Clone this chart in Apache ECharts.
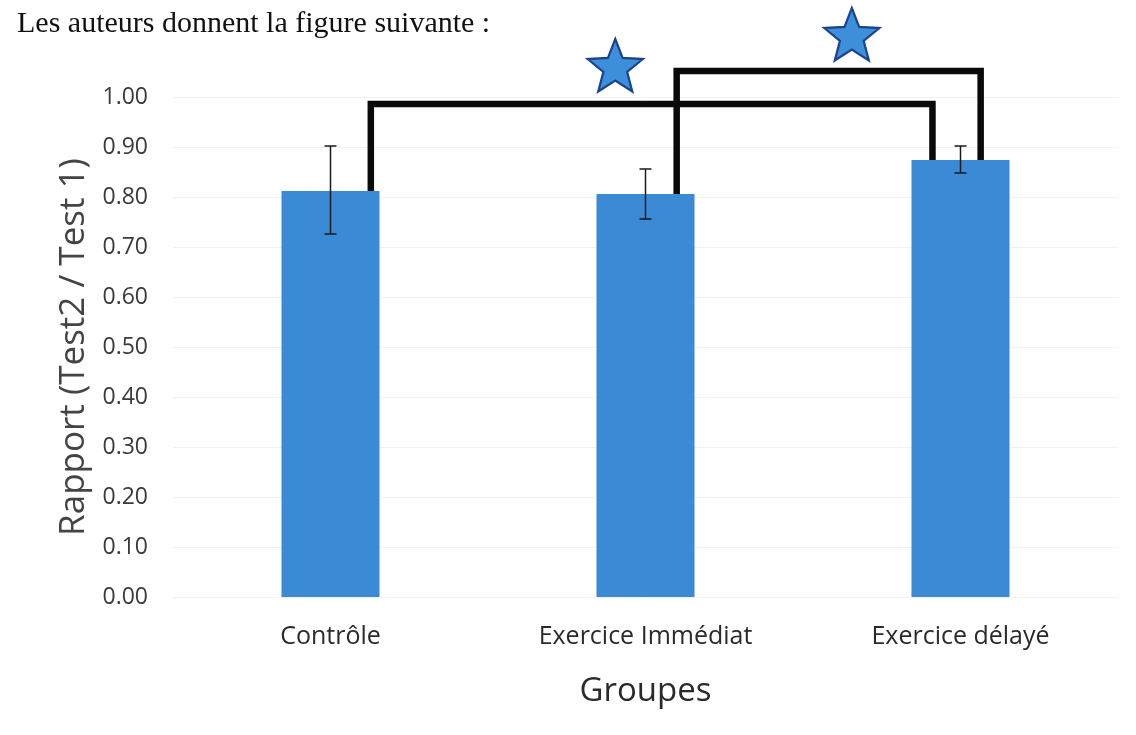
<!DOCTYPE html>
<html><head><meta charset="utf-8">
<script src="https://cdn.jsdelivr.net/npm/echarts@6/dist/echarts.min.js"></script>
<style>html,body{margin:0;padding:0;background:#fff}#c{width:1136px;height:735px}</style>
</head><body><div id="c"></div>
<script>
// ---- data ----
const categories = ['Contrôle', 'Exercice Immédiat', 'Exercice délayé'];
const ratioValues = [0.812, 0.806, 0.874];
const errorLow = [0.726, 0.756, 0.848];
const errorHigh = [0.902, 0.856, 0.902];
// significance brackets
const bracketFrom = [0, 1];
const bracketTo = [2, 2];
const bracketLevel = [0.986, 1.052];
const starLevel = [1.058, 1.12];

// ---- layout (fractions of category band width) ----
const legOffsets = [[0.128, -0.089], [0.099, 0.064]];
const starOffsets = [-0.096, 0.655];

const chart = echarts.init(document.getElementById('c'));
const FONT = 'Open Sans';

function starPoints(cx, cy, R) {
  const r = R * 0.43; const pts = [];
  for (let k = 0; k < 10; k++) {
    const a = -Math.PI / 2 + k * Math.PI / 5;
    const rr = k % 2 === 0 ? R : r;
    pts.push([cx + rr * Math.cos(a), cy + rr * Math.sin(a)]);
  }
  return pts;
}

chart.setOption({
  animation: false,
  backgroundColor: '#ffffff',
  title: {
    text: 'Les auteurs donnent la figure suivante :',
    left: 12, top: 4,
    textStyle: { fontFamily: 'Liberation Serif', fontSize: 30, fontWeight: 'normal', color: '#111' }
  },
  grid: { left: 173, right: 18, top: 97, bottom: 138 },
  xAxis: {
    type: 'category', data: categories,
    axisLine: { show: false }, axisTick: { show: false },
    axisLabel: { fontFamily: FONT, fontSize: 25, color: '#2a2a2a', margin: 27 },
    name: 'Groupes', nameLocation: 'middle', nameGap: 78,
    nameTextStyle: { fontFamily: FONT, fontSize: 33, color: '#2a2a2a' }
  },
  yAxis: {
    type: 'value', min: 0, max: 1, interval: 0.1,
    axisLine: { show: false }, axisTick: { show: false },
    splitLine: { show: true, lineStyle: { color: '#f2f2f2', width: 1 } },
    axisLabel: { fontFamily: FONT, fontSize: 23, color: '#3a3a3a', margin: 25,
      formatter: v => v.toFixed(2) },
    name: 'Rapport (Test2 / Test 1)', nameLocation: 'middle', nameGap: 80,
    nameTextStyle: { fontFamily: FONT, fontSize: 35, color: '#444' }
  },
  series: [
    {
      type: 'bar', data: ratioValues, barWidth: 98,
      itemStyle: { color: '#3a8ad5' }, z: 2
    },
    {
      type: 'custom', z: 5, clip: false,
      data: categories.map((c, i) => [i, errorLow[i], errorHigh[i]]),
      renderItem: (params, api) => {
        const lo = api.coord([api.value(0), api.value(1)]);
        const hi = api.coord([api.value(0), api.value(2)]);
        const w = 6, st = { stroke: '#1a1a1a', lineWidth: 1.5 };
        return { type: 'group', children: [
          { type: 'line', shape: { x1: lo[0], y1: lo[1], x2: hi[0], y2: hi[1] }, style: st },
          { type: 'line', shape: { x1: lo[0] - w, y1: lo[1], x2: lo[0] + w, y2: lo[1] }, style: st },
          { type: 'line', shape: { x1: hi[0] - w, y1: hi[1], x2: hi[0] + w, y2: hi[1] }, style: st }
        ]};
      }
    },
    {
      type: 'custom', z: 6, clip: false,
      data: bracketFrom.map((f, j) => [f, bracketTo[j], bracketLevel[j], ratioValues[f], ratioValues[bracketTo[j]], starLevel[j], j]),
      renderItem: (params, api) => {
        const j = api.value(6);
        const band = api.size([1, 0])[0];
        const f = api.value(0), t = api.value(1);
        const pf = api.coord([f, api.value(3)]);
        const pt = api.coord([t, api.value(4)]);
        const yTop = api.coord([f, api.value(2)])[1];
        const xf = pf[0] + legOffsets[j][0] * band;
        const xt = pt[0] + legOffsets[j][1] * band;
        const mid = api.coord([1, api.value(5)]);
        const sx = mid[0] + starOffsets[j] * band;
        return { type: 'group', children: [
          { type: 'polyline', shape: { points: [[xf, pf[1]], [xf, yTop], [xt, yTop], [xt, pt[1]]] },
            style: { stroke: '#0a0a0a', lineWidth: 6.5, fill: null, lineJoin: 'miter' } },
          { type: 'polygon', shape: { points: starPoints(sx, mid[1], 29) },
            style: { fill: '#3d8fd9', stroke: '#1b448f', lineWidth: 2.2, lineJoin: 'miter' } }
        ]};
      }
    }
  ]
});
</script></body></html>
